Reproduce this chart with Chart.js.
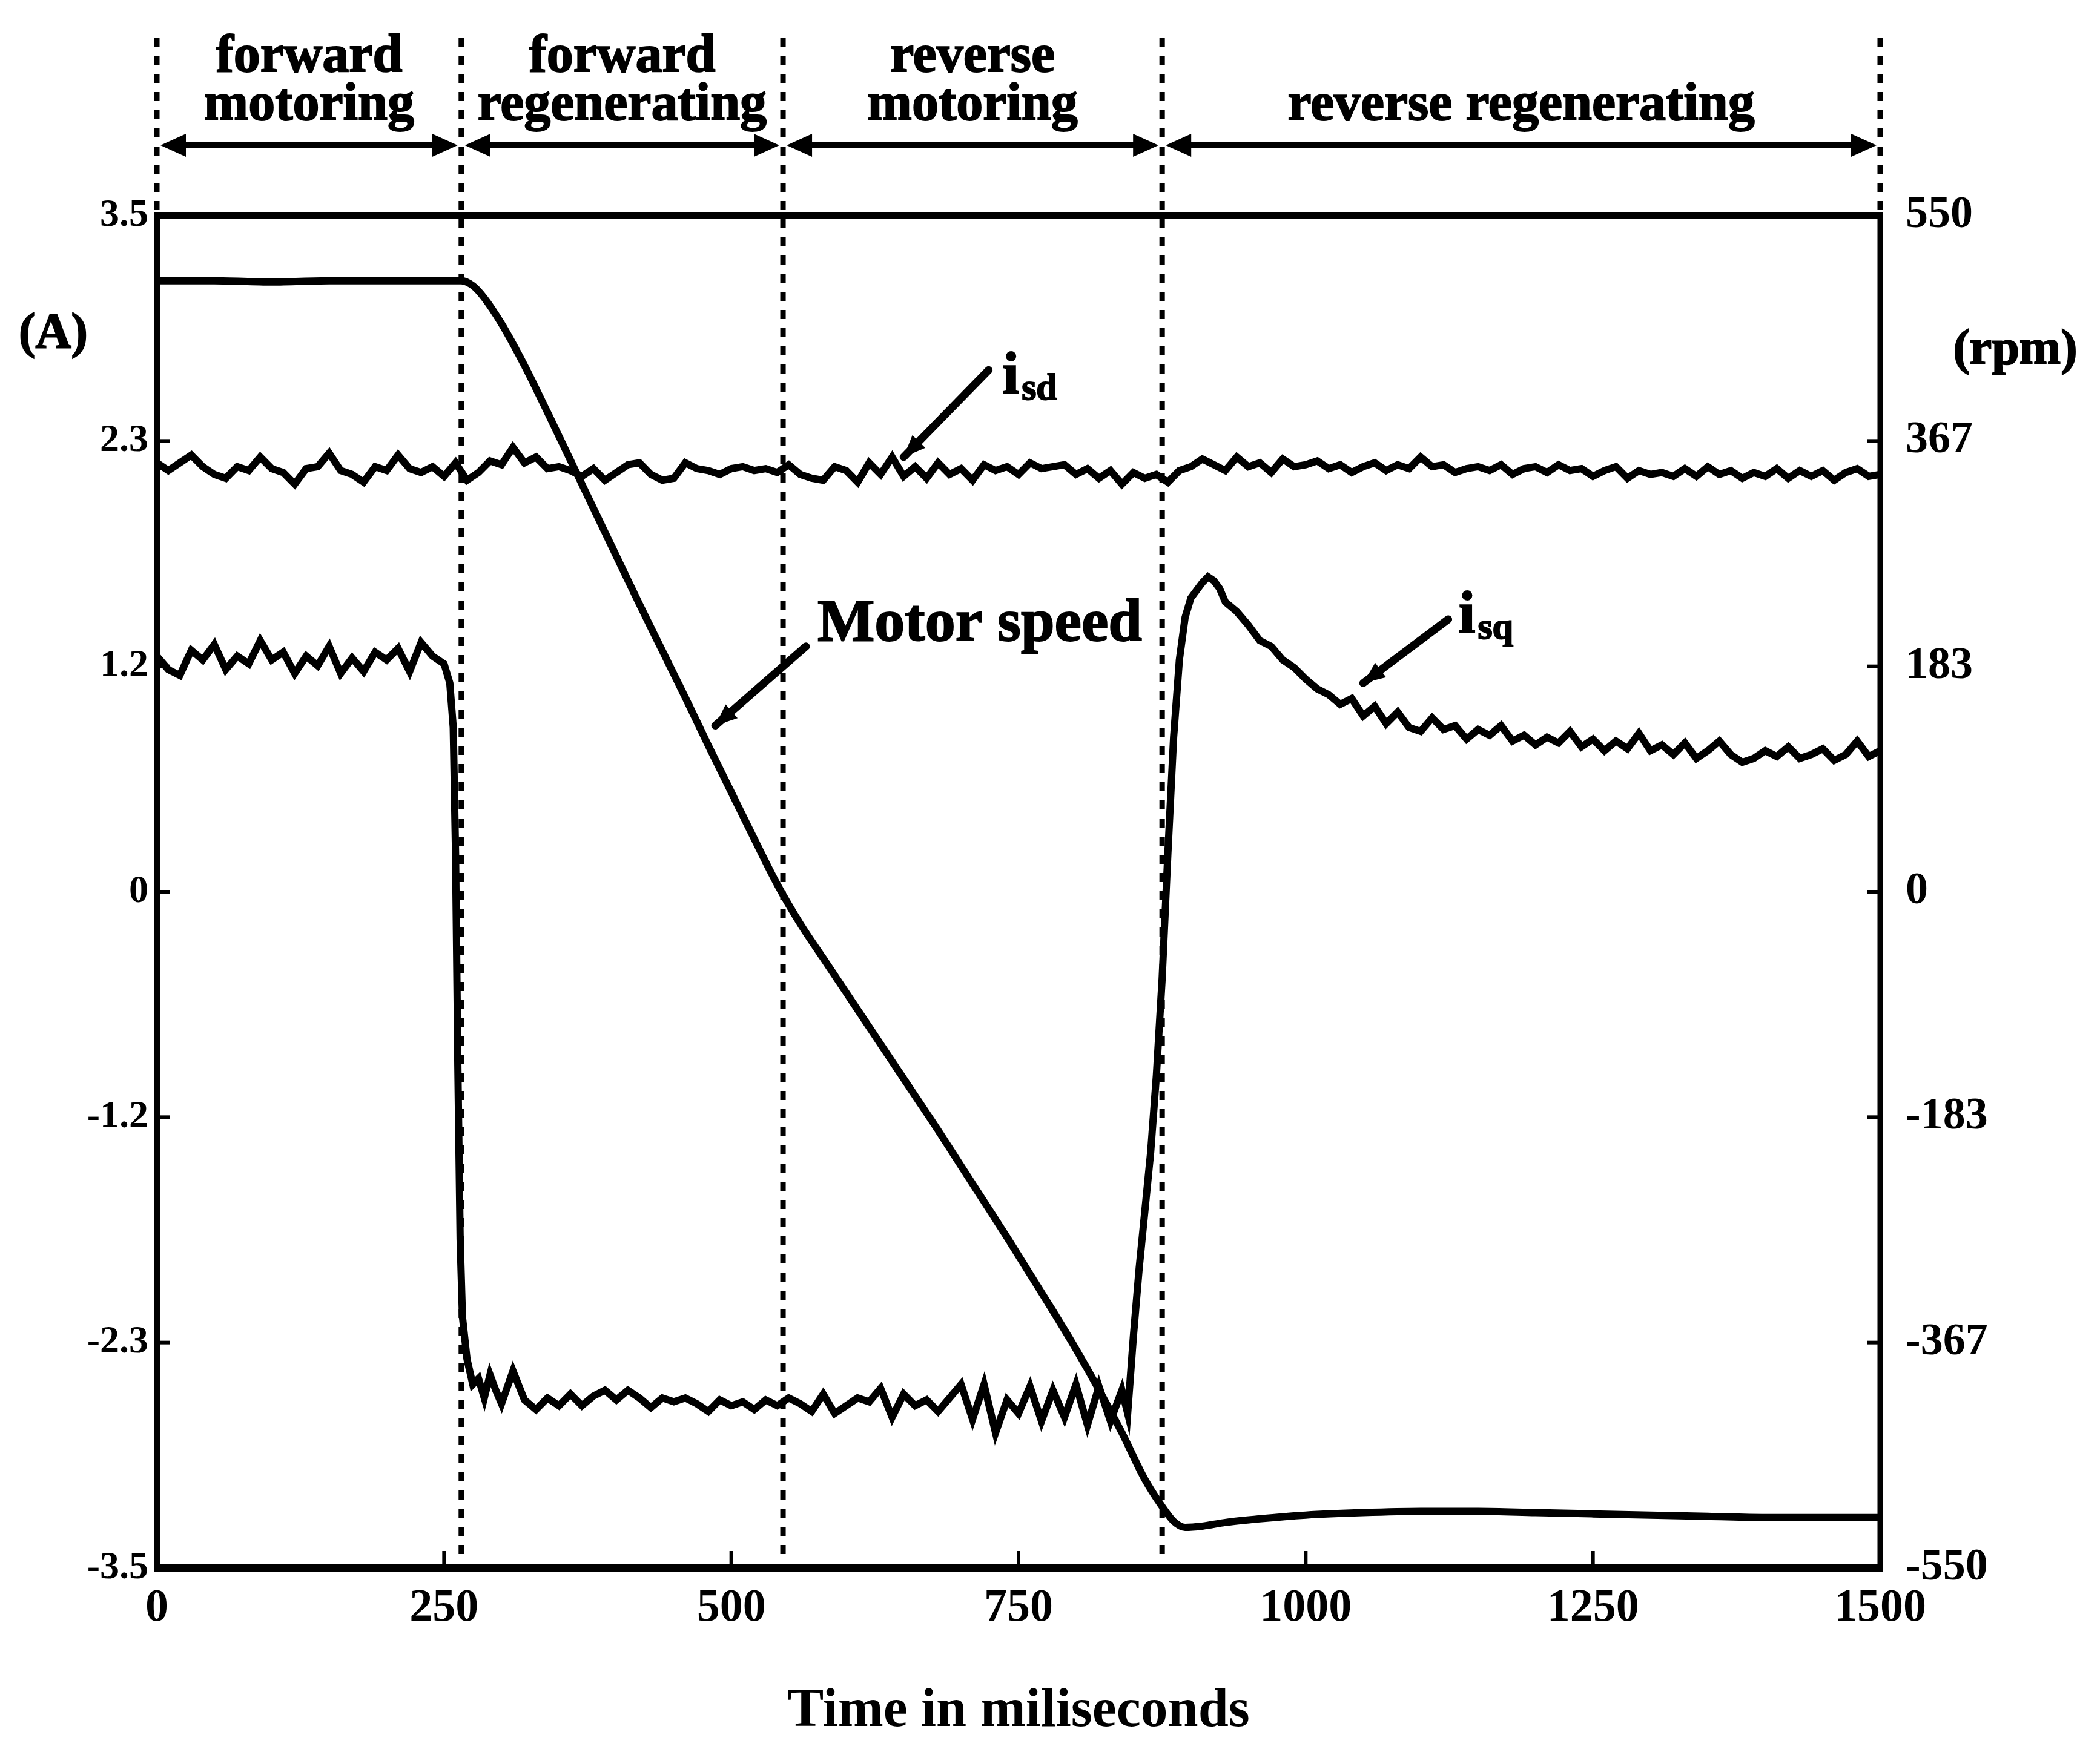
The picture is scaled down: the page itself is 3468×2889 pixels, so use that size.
<!DOCTYPE html>
<html>
<head>
<meta charset="utf-8">
<script src="https://cdn.jsdelivr.net/npm/chart.js@4/dist/chart.umd.min.js"></script>
<style>
  html, body { margin: 0; padding: 0; background: #ffffff; }
  #wrap { width: 3468px; height: 2889px; }
</style>
</head>
<body>
<div id="wrap"><canvas id="c" width="3468" height="2889"></canvas></div>
<script>
// ---------------- DATA ----------------
// time axis of i_sd samples (ms)
const isdTime = [
  0,10,20,30,40,50,60,70,80,90,
  100,110,120,130,140,150,160,170,180,190,
  200,210,220,230,240,250,260,270,280,290,
  300,310,320,330,340,350,360,370,380,390,
  400,410,420,430,440,450,460,470,480,490,
  500,510,520,530,540,550,560,570,580,590,
  600,610,620,630,640,650,660,670,680,690,
  700,710,720,730,740,750,760,770,780,790,
  800,810,820,830,840,850,860,870,880,890,
  900,910,920,930,940,950,960,970,980,990,
  1000,1010,1020,1030,1040,1050,1060,1070,1080,1090,
  1100,1110,1120,1130,1140,1150,1160,1170,1180,1190,
  1200,1210,1220,1230,1240,1250,1260,1270,1280,1290,
  1300,1310,1320,1330,1340,1350,1360,1370,1380,1390,
  1400,1410,1420,1430,1440,1450,1460,1470,1480,1490,
  1500
];
// i_sd (A)
const isdValues = [
  2.22,2.18,2.22,2.26,2.20,2.16,2.14,2.20,2.18,2.25,
  2.19,2.17,2.11,2.19,2.20,2.27,2.18,2.16,2.12,2.20,
  2.18,2.26,2.19,2.17,2.20,2.15,2.22,2.13,2.17,2.23,
  2.21,2.30,2.22,2.25,2.19,2.20,2.18,2.15,2.19,2.13,
  2.17,2.21,2.22,2.16,2.13,2.14,2.22,2.19,2.18,2.16,
  2.19,2.20,2.18,2.19,2.17,2.21,2.16,2.14,2.13,2.20,
  2.18,2.12,2.22,2.16,2.25,2.15,2.20,2.14,2.22,2.16,
  2.19,2.13,2.21,2.18,2.20,2.16,2.22,2.19,2.20,2.21,
  2.16,2.19,2.14,2.18,2.11,2.17,2.14,2.16,2.12,2.18,
  2.20,2.24,2.21,2.18,2.25,2.20,2.22,2.17,2.24,2.20,
  2.21,2.23,2.19,2.21,2.17,2.20,2.22,2.18,2.21,2.19,
  2.25,2.20,2.21,2.17,2.19,2.20,2.18,2.21,2.16,2.19,
  2.20,2.17,2.21,2.18,2.19,2.15,2.18,2.20,2.14,2.18,
  2.16,2.17,2.15,2.19,2.15,2.20,2.16,2.18,2.14,2.17,
  2.15,2.19,2.14,2.18,2.15,2.18,2.13,2.17,2.19,2.15,
  2.16
];
// time axis of i_sq samples (ms)
const isqTime = [
  0,10,20,30,40,50,60,70,80,90,100,110,120,130,140,150,160,170,180,190,200,210,220,230,240,250,
  255,258,260,262,264,266,270,275,280,285,290,295,300,
  310,320,330,340,350,360,370,380,390,400,
  410,420,430,440,450,460,470,480,490,500,
  510,520,530,540,550,560,570,580,590,600,
  610,620,630,640,650,660,670,680,690,700,
  710,720,730,740,750,760,770,780,790,800,
  810,820,830,840,
  845,850,855,860,865,870,875,880,885,890,895,900,905,910,915,920,925,930,
  940,950,960,970,980,990,1000,1010,1020,1030,
  1040,1050,1060,1070,1080,1090,1100,1110,1120,1130,
  1140,1150,1160,1170,1180,1190,1200,1210,1220,1230,
  1240,1250,1260,1270,1280,1290,1300,1310,1320,1330,
  1340,1350,1360,1370,1380,1390,1400,1410,1420,1430,
  1440,1450,1460,1470,1480,1490,1500
];
// i_sq (A)
const isqValues = [
  1.22,1.15,1.12,1.25,1.20,1.28,1.15,1.22,1.18,1.30,1.20,1.24,1.13,1.22,1.17,1.27,1.13,1.21,1.14,1.24,1.20,1.26,1.14,1.29,1.22,1.18,
  1.08,0.85,0.20,-0.90,-1.80,-2.20,-2.42,-2.55,-2.52,-2.62,-2.50,-2.58,-2.65,
  -2.48,-2.63,-2.68,-2.62,-2.66,-2.60,-2.66,-2.61,-2.58,-2.63,
  -2.58,-2.62,-2.67,-2.62,-2.64,-2.62,-2.65,-2.69,-2.63,-2.66,
  -2.64,-2.68,-2.63,-2.66,-2.62,-2.65,-2.69,-2.60,-2.70,-2.66,
  -2.62,-2.64,-2.57,-2.72,-2.60,-2.66,-2.63,-2.69,-2.62,-2.55,
  -2.73,-2.55,-2.80,-2.63,-2.70,-2.56,-2.74,-2.58,-2.72,-2.55,
  -2.76,-2.56,-2.74,-2.58,
  -2.70,-2.30,-1.95,-1.65,-1.35,-0.95,-0.45,0.20,0.80,1.20,1.42,1.52,1.56,1.60,1.63,1.61,1.57,1.50,
  1.45,1.38,1.30,1.27,1.20,1.16,1.10,1.05,1.02,0.97,
  1.00,0.91,0.96,0.87,0.93,0.85,0.83,0.90,0.84,0.86,
  0.79,0.84,0.81,0.86,0.78,0.81,0.76,0.80,0.77,0.83,
  0.75,0.79,0.73,0.78,0.74,0.82,0.73,0.76,0.71,0.77,
  0.69,0.73,0.78,0.71,0.67,0.69,0.73,0.70,0.75,0.69,
  0.71,0.74,0.68,0.71,0.78,0.70,0.73
];
// time axis of speed samples (ms)
const speedTime = [
  0,50,100,150,200,250,265,275,285,
  300,320,340,360,380,400,420,440,460,480,500,520,540,560,580,600,620,640,660,680,700,720,740,760,780,800,820,840,860,
  875,885,895,910,930,960,
  1000,1050,1100,1150,1200,1250,1300,1350,1400,1450,1500
];
// motor speed (rpm)
const speedValues = [
  497,497,496,497,497,497,497,493,483,
  462,428,390,351,312,273,234,196,158,119,81,43,6,-26,-54,-82,-110,-138,-166,-194,-223,-252,-281,-311,-341,-372,-405,-440,-478,
  -500,-512,-517,-516,-513,-510,
  -507,-505,-504,-504,-505,-506,-507,-508,-509,-509,-509
];

const xTickValues = [0, 250, 500, 750, 1000, 1250, 1500];
const currentTickValues = [-3.5, -2.3333, -1.1667, 0, 1.1667, 2.3333, 3.5];
const currentTickLabels = ['-3.5', '-2.3', '-1.2', '0', '1.2', '2.3', '3.5'];
const speedTickValues = [-550, -366.67, -183.33, 0, 183.33, 366.67, 550];
const speedTickLabels = ['-550', '-367', '-183', '0', '183', '367', '550'];

const phaseBoundaries = [0, 265, 545, 875, 1500];
const phaseLabels = [
  ['forward', 'motoring'],
  ['forward', 'regenerating'],
  ['reverse', 'motoring'],
  ['reverse regenerating']
];

// ---------------- CHART ----------------
const FONT = "'Liberation Serif', 'DejaVu Serif', serif";

function zip(ts, vs) { return ts.map((t, i) => ({ x: t, y: vs[i] })); }

// curve annotations (label + pointer), placed in data coordinates
const curveNotes = [
  { parts: [['i', 100, 0], ['sd', 62, 10]], t: 736, a: 2.58, from: [724, 2.70], to: [650, 2.25] },
  { parts: [['Motor speed', 100, 0]], t: 575, a: 1.30, from: [565, 1.27], to: [486, 0.86] },
  { parts: [['i', 100, 0], ['sq', 62, 10]], t: 1133, a: 1.34, from: [1124, 1.41], to: [1050, 1.08] }
];

function arrowHead(ctx, x1, y1, x2, y2, len, half) {
  const ang = Math.atan2(y2 - y1, x2 - x1);
  const bx = x2 - len * Math.cos(ang), by = y2 - len * Math.sin(ang);
  ctx.beginPath();
  ctx.moveTo(x2, y2);
  ctx.lineTo(bx + half * Math.sin(ang), by - half * Math.cos(ang));
  ctx.lineTo(bx - half * Math.sin(ang), by + half * Math.cos(ang));
  ctx.closePath();
  ctx.fill();
}

function boldText(ctx, s, x, y) {
  ctx.fillText(s, x, y);
  ctx.strokeText(s, x, y);
}

const framePlugin = {
  id: 'frame',
  afterDatasetsDraw(chart) {
    const { ctx, chartArea: a, scales } = chart;
    const xs = scales.x, yA = scales.yA, yR = scales.yR;
    ctx.save();
    ctx.strokeStyle = '#000';
    ctx.fillStyle = '#000';
    ctx.lineCap = 'butt';
    const seg = (x1, y1, x2, y2, w) => {
      ctx.lineWidth = w; ctx.beginPath(); ctx.moveTo(x1, y1); ctx.lineTo(x2, y2); ctx.stroke();
    };
    // frame
    seg(a.left - 5, a.top, a.right + 5, a.top, 12);
    seg(a.left - 5, a.bottom, a.right + 5, a.bottom, 14);
    seg(a.left, a.top, a.left, a.bottom, 10);
    seg(a.right, a.top, a.right, a.bottom, 9);
    // inward tick marks
    xTickValues.forEach(v => {
      if (v > xs.min && v < xs.max) { const px = xs.getPixelForValue(v); seg(px, a.bottom, px, a.bottom - 28, 6); }
    });
    currentTickValues.forEach(v => {
      if (v > yA.min && v < yA.max) { const py = yA.getPixelForValue(v); seg(a.left, py, a.left + 22, py, 6); }
    });
    speedTickValues.forEach(v => {
      if (v > yR.min && v < yR.max) { const py = yR.getPixelForValue(v); seg(a.right, py, a.right - 22, py, 6); }
    });

    // dotted phase boundaries
    ctx.setLineDash([15, 15]);
    ctx.lineWidth = 9;
    phaseBoundaries.forEach((t, i) => {
      const px = xs.getPixelForValue(t);
      const outer = (i === 0 || i === phaseBoundaries.length - 1);
      ctx.beginPath();
      ctx.moveTo(px, 62);
      ctx.lineTo(px, outer ? a.top - 8 : a.bottom - 18);
      ctx.stroke();
    });
    ctx.setLineDash([]);

    // double arrows between boundaries
    const arrowY = 240;
    for (let i = 0; i < phaseBoundaries.length - 1; i++) {
      const p1 = xs.getPixelForValue(phaseBoundaries[i]) + 6;
      const p2 = xs.getPixelForValue(phaseBoundaries[i + 1]) - 6;
      seg(p1 + 20, arrowY, p2 - 20, arrowY, 10);
      arrowHead(ctx, p2, arrowY, p1, arrowY, 42, 19);
      arrowHead(ctx, p1, arrowY, p2, arrowY, 42, 19);
    }

    // phase labels
    ctx.font = `bold 88px ${FONT}`;
    ctx.textAlign = 'center';
    ctx.textBaseline = 'alphabetic';
    ctx.lineWidth = 2;
    phaseLabels.forEach((lines, i) => {
      const cx = (xs.getPixelForValue(phaseBoundaries[i]) + xs.getPixelForValue(phaseBoundaries[i + 1])) / 2;
      const baselines = lines.length === 2 ? [118, 198] : [198];
      lines.forEach((s, j) => boldText(ctx, s, cx, baselines[j]));
    });

    // unit labels
    ctx.font = `bold 82px ${FONT}`;
    ctx.textBaseline = 'middle';
    boldText(ctx, '(A)', 88, 553);
    boldText(ctx, '(rpm)', 3328, 580);

    // curve annotations
    ctx.textAlign = 'left';
    ctx.textBaseline = 'alphabetic';
    curveNotes.forEach(n => {
      let x = xs.getPixelForValue(n.t);
      const y = yA.getPixelForValue(n.a);
      n.parts.forEach(([s, size, dy]) => {
        ctx.font = `bold ${size}px ${FONT}`;
        ctx.lineWidth = 2;
        boldText(ctx, s, x, y + dy);
        x += ctx.measureText(s).width + 4;
      });
      const fx = xs.getPixelForValue(n.from[0]), fy = yA.getPixelForValue(n.from[1]);
      const tx = xs.getPixelForValue(n.to[0]), ty = yA.getPixelForValue(n.to[1]);
      ctx.lineCap = 'round';
      seg(fx, fy, tx, ty, 13);
      ctx.lineCap = 'butt';
      arrowHead(ctx, fx, fy, tx, ty, 36, 15);
    });
    ctx.restore();
  }
};

new Chart(document.getElementById('c').getContext('2d'), {
  type: 'line',
  data: {
    datasets: [
      { label: 'i_sd', data: zip(isdTime, isdValues), yAxisID: 'yA', borderColor: '#000', borderWidth: 12, pointRadius: 0, tension: 0 },
      { label: 'i_sq', data: zip(isqTime, isqValues), yAxisID: 'yA', borderColor: '#000', borderWidth: 12, pointRadius: 0, tension: 0 },
      { label: 'Motor speed', data: zip(speedTime, speedValues), yAxisID: 'yR', borderColor: '#000', borderWidth: 12, pointRadius: 0, cubicInterpolationMode: 'monotone' }
    ]
  },
  options: {
    responsive: false,
    animation: false,
    devicePixelRatio: 1,
    layout: { padding: { top: 356, left: 0, right: 0, bottom: 0 } },
    plugins: { legend: { display: false }, tooltip: { enabled: false } },
    scales: {
      x: {
        type: 'linear', min: 0, max: 1500,
        afterBuildTicks: s => { s.ticks = xTickValues.map(v => ({ value: v })); },
        afterFit: s => { s.height = 299; },
        grid: { display: false, drawTicks: false },
        border: { display: false },
        ticks: { color: '#000', font: { family: FONT, size: 76, weight: 'bold' }, padding: 22, maxRotation: 0, autoSkip: false,
                 callback: v => String(v) },
        title: { display: true, text: 'Time in miliseconds', color: '#000', font: { family: FONT, size: 90, weight: 'bold' }, padding: { top: 0, bottom: 7 } }
      },
      yA: {
        type: 'linear', position: 'left', min: -3.5, max: 3.5,
        afterBuildTicks: s => { s.ticks = currentTickValues.map(v => ({ value: v })); },
        afterFit: s => { s.width = 259; },
        grid: { display: false, drawTicks: false },
        border: { display: false },
        ticks: { color: '#000', font: { family: FONT, size: 64, weight: 'bold' }, padding: 14, autoSkip: false,
                 callback: (v, i) => currentTickLabels[i] }
      },
      yR: {
        type: 'linear', position: 'right', min: -550, max: 550,
        afterBuildTicks: s => { s.ticks = speedTickValues.map(v => ({ value: v })); },
        afterFit: s => { s.width = 363; },
        grid: { display: false, drawTicks: false },
        border: { display: false },
        ticks: { color: '#000', font: { family: FONT, size: 74, weight: 'bold' }, padding: 42, autoSkip: false,
                 callback: (v, i) => speedTickLabels[i] }
      }
    }
  },
  plugins: [framePlugin]
});
</script>
</body>
</html>
